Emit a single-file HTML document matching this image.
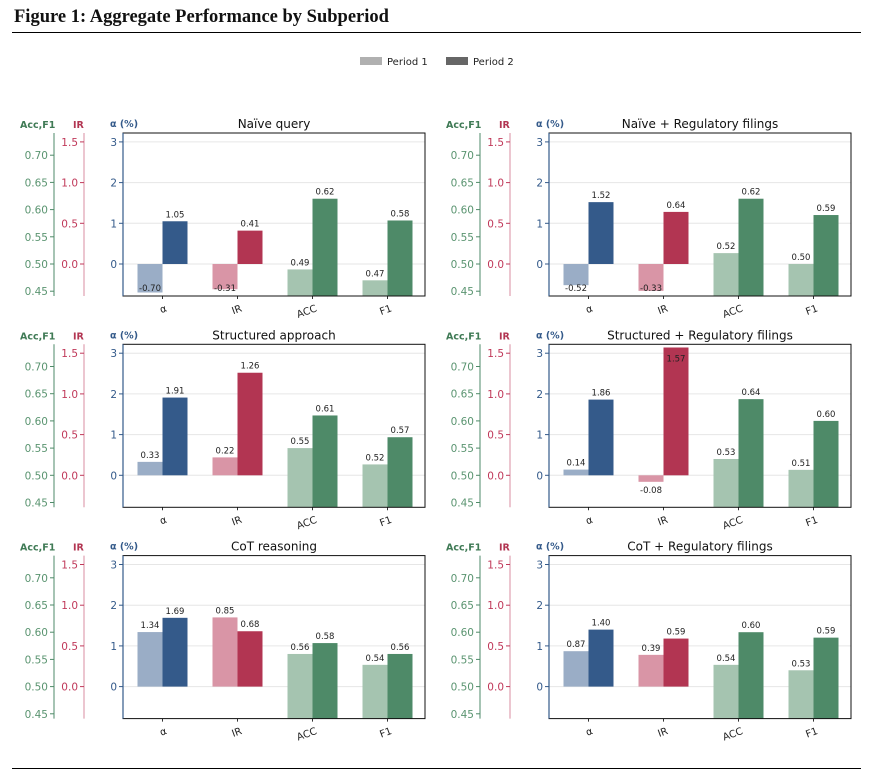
<!DOCTYPE html>
<html><head><meta charset="utf-8">
<style>
body{margin:0;background:#fff;}
svg{display:block;font-family:"DejaVu Sans","Liberation Sans",sans-serif;}
</style></head>
<body>
<svg id="s" width="872" height="773" xmlns="http://www.w3.org/2000/svg">
<text x="14" y="22" font-family="Liberation Serif,serif" font-weight="bold" font-size="18.5" fill="#111">Figure 1: Aggregate Performance by Subperiod</text>
<line x1="12" y1="32.5" x2="861" y2="32.5" stroke="#000" stroke-width="1"/>
<line x1="12" y1="768.5" x2="861" y2="768.5" stroke="#000" stroke-width="1"/>
<rect x="360" y="57" width="22" height="8" fill="#b0b0b0"/>
<text x="387" y="65" font-size="10" fill="#222">Period 1</text>
<rect x="446" y="57" width="22" height="8" fill="#666"/>
<text x="473" y="65" font-size="10" fill="#222">Period 2</text>
</svg>
<script>
const S=document.getElementById('s');
const NS='http://www.w3.org/2000/svg';
function el(t,a,txt){const e=document.createElementNS(NS,t);for(const k in a)e.setAttribute(k,a[k]);if(txt!==undefined)e.textContent=txt;S.appendChild(e);return e;}
const panels=[
["Naïve query",[-0.70,1.05],[-0.31,0.41],[0.49,0.62],[0.47,0.58]],
["Naïve + Regulatory filings",[-0.52,1.52],[-0.33,0.64],[0.52,0.62],[0.50,0.59]],
["Structured approach",[0.33,1.91],[0.22,1.26],[0.55,0.61],[0.52,0.57]],
["Structured + Regulatory filings",[0.14,1.86],[-0.08,1.57],[0.53,0.64],[0.51,0.60]],
["CoT reasoning",[1.34,1.69],[0.85,0.68],[0.56,0.58],[0.54,0.56]],
["CoT + Regulatory filings",[0.87,1.40],[0.39,0.59],[0.54,0.60],[0.53,0.59]]];
const U=40.7;
const cols=[["#9aadc6","#345a8a"],["#d995a6","#b23552"],["#a5c4b0","#4e8a68"],["#a5c4b0","#4e8a68"]];
const xl=["α","IR","ACC","F1"];
panels.forEach((p,i)=>{
 const ox=(i%2)*426, z=264+Math.floor(i/2)*211.3;
 const bl=123+ox, br=425+ox, bt=z-131, bb=z+32;
 for(let k=0;k<=3;k++){const y=z-k*U;el('line',{x1:bl,x2:br,y1:y,y2:y,stroke:'#e6e6e6','stroke-width':1});
  el('line',{x1:bl-4,x2:bl,y1:y,y2:y,stroke:'#345a8a'});
  el('text',{x:bl-6,y:y+4,'font-size':10.5,'text-anchor':'end',fill:'#345a8a'},String(k));}
 const ax=54+ox;
 el('line',{x1:ax,x2:ax,y1:bt,y2:bb,stroke:'#4e8a68'});
 [0.70,0.65,0.60,0.55,0.50,0.45].forEach(v=>{const y=z-(v-0.5)*544;
  el('line',{x1:ax-4,x2:ax,y1:y,y2:y,stroke:'#4e8a68'});
  el('text',{x:ax-6,y:y+4,'font-size':10.5,'text-anchor':'end',fill:'#5a9470'},v.toFixed(2));});
 const ix=84+ox;
 el('line',{x1:ix,x2:ix,y1:bt,y2:bb,stroke:'#d98ca0'});
 [1.5,1.0,0.5,0.0].forEach(v=>{const y=z-v*2*U;
  el('line',{x1:ix-4,x2:ix,y1:y,y2:y,stroke:'#c0395a'});
  el('text',{x:ix-6,y:y+4,'font-size':10.5,'text-anchor':'end',fill:'#c0395a'},v.toFixed(1));});
 el('text',{x:20+ox,y:z-136,'font-size':9.5,'font-weight':'bold',fill:'#3f7a55'},"Acc,F1");
 el('text',{x:73+ox,y:z-136,'font-size':9.5,'font-weight':'bold',fill:'#b23552'},"IR");
 el('text',{x:110+ox,y:z-137,'font-size':9.5,'font-weight':'bold',fill:'#345a8a'},"α (%)");
 el('text',{x:(bl+br)/2,y:z-136,'font-size':12,'text-anchor':'middle',fill:'#111'},p[0]);
 for(let c=0;c<4;c++){
  const cx=bl+39.5+75*c;
  for(let j=0;j<2;j++){
   const v=p[c+1][j];
   let top,bot,neg=false;
   if(c<2){const h=(c==0?v*U:v*2*U);top=z-Math.max(h,0);bot=z-Math.min(h,0);neg=h<0;}
   else {top=z-(v-0.5)*544;bot=bb;}
   const x0=cx-25+25*j;
   el('rect',{x:x0,y:top,width:25,height:Math.max(bot-top,0.5),fill:cols[c][j]});
   let ty;
   if(!neg){ty=Math.max(top-4,bt+17);} else {ty=Math.min(bot+11,bb-5);}
   el('text',{x:x0+12.5,y:ty,'font-size':8.5,'text-anchor':'middle',fill:'#222'},v.toFixed(2));
  }
  el('line',{x1:cx,x2:cx,y1:bb,y2:bb+3,stroke:'#333'});
  el('text',{x:cx+5,y:bb+15,'font-size':10,'text-anchor':'end',fill:'#222',transform:`rotate(-20 ${cx+5} ${bb+15})`},xl[c]);
 }
 el('rect',{x:bl,y:bt,width:br-bl,height:bb-bt,fill:'none',stroke:'#111','stroke-width':1});
 el('line',{x1:bl,x2:bl,y1:bt,y2:bb,stroke:'#345a8a','stroke-width':1.2});
});
</script>
</body></html>
